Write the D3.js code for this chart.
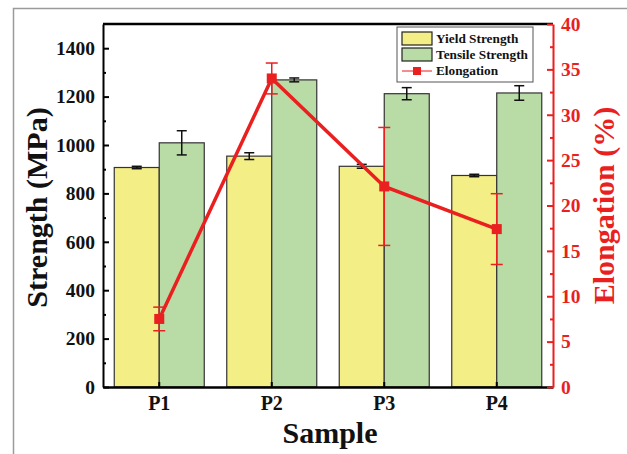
<!DOCTYPE html>
<html>
<head>
<meta charset="utf-8">
<script src="https://cdn.jsdelivr.net/npm/d3@7"></script>
<style>
  body { margin: 0; background: #fff; }
  text { font-family: "Liberation Serif", "Times New Roman", serif; font-weight: bold; }
</style>
</head>
<body>
<div id="chart"></div>
<script>
// data
const samples = ['P1', 'P2', 'P3', 'P4'];
const yieldStrength = [907, 954, 912, 874];
const yieldErr = [5, 14, 8, 5];
const tensileStrength = [1009, 1269, 1212, 1215];
const tensileErr = [50, 8, 25, 30];
const elongation = [7.5, 34, 22.1, 17.4];
const elongationErr = [1.3, 1.7, 6.5, 3.9];
const strengthTicks = [0, 200, 400, 600, 800, 1000, 1200, 1400];
const elongTicks = [0, 5, 10, 15, 20, 25, 30, 35, 40];

const width = 627, height = 454;
const margin = { top: 24, right: 74, bottom: 67, left: 103 };
const innerW = width - margin.left - margin.right;
const innerH = height - margin.top - margin.bottom;
const red = '#ea1f1f';
const yellow = '#f4ee86';
const green = '#b9dba6';

const svg = d3.select('#chart').append('svg')
    .attr('width', width)
    .attr('height', height);

// outer grey frame of the figure
svg.append('path')
    .attr('d', `M13.5,${height} L13.5,8.5 L${width},8.5`)
    .attr('fill', 'none')
    .attr('stroke', '#9a9a9a')
    .attr('stroke-width', 1.5);

const g = svg.append('g')
    .attr('transform', `translate(${margin.left},${margin.top})`);

const x = d3.scaleBand().domain(samples).range([0, innerW]).paddingInner(0.2).paddingOuter(0.1);
const xSub = d3.scaleBand().domain(['yield', 'tensile']).range([0, x.bandwidth()]);
const y = d3.scaleLinear().domain([0, 1500]).range([innerH, 0]);
const y2 = d3.scaleLinear().domain([0, 40]).range([innerH, 0]);

// bars
const bars = [
    { key: 'yield', values: yieldStrength, errs: yieldErr, fill: yellow },
    { key: 'tensile', values: tensileStrength, errs: tensileErr, fill: green }
];
bars.forEach(s => {
    samples.forEach((p, i) => {
        const bx = x(p) + xSub(s.key);
        g.append('rect')
            .attr('x', bx)
            .attr('y', y(s.values[i]))
            .attr('width', xSub.bandwidth())
            .attr('height', innerH - y(s.values[i]))
            .attr('fill', s.fill)
            .attr('stroke', '#333')
            .attr('stroke-width', 1.2);
        // error bar
        const cx = bx + xSub.bandwidth() / 2;
        const y1 = y(s.values[i] + s.errs[i]);
        const yb = y(s.values[i] - s.errs[i]);
        g.append('line').attr('x1', cx).attr('x2', cx).attr('y1', y1).attr('y2', yb)
            .attr('stroke', '#111').attr('stroke-width', 1.5);
        [y1, yb].forEach(v => {
            g.append('line').attr('x1', cx - 5).attr('x2', cx + 5).attr('y1', v).attr('y2', v)
                .attr('stroke', '#111').attr('stroke-width', 1.5);
        });
    });
});

// left axis
const yAxis = d3.axisLeft(y).tickValues(strengthTicks).tickFormat(d3.format('d'))
    .tickSizeInner(-6).tickSizeOuter(0).tickPadding(8);
const gy = g.append('g').call(yAxis);
gy.select('.domain').attr('stroke', '#000').attr('stroke-width', 2);
gy.selectAll('.tick line').attr('stroke', '#000').attr('stroke-width', 2);
gy.selectAll('.tick text').attr('font-size', 19.5).attr('fill', '#111');
g.append('g').call(d3.axisLeft(y).tickValues(d3.range(100, 1500, 200)).tickSize(-3).tickFormat(''))
    .call(a => a.select('.domain').remove())
    .selectAll('line').attr('stroke', '#000').attr('stroke-width', 2);

// bottom axis
const xAxis = d3.axisBottom(x).tickSizeInner(-5).tickSizeOuter(0).tickPadding(9);
const gx = g.append('g').attr('transform', `translate(0,${innerH})`).call(xAxis);
gx.select('.domain').attr('stroke', '#000').attr('stroke-width', 2.5);
gx.selectAll('.tick line').attr('stroke', '#000').attr('stroke-width', 2);
gx.selectAll('.tick text').attr('font-size', 20).attr('fill', '#111');

// top frame
g.append('line').attr('x1', 0).attr('x2', innerW).attr('y1', 0).attr('y2', 0)
    .attr('stroke', '#000').attr('stroke-width', 2.5);

// right axis
const yAxis2 = d3.axisRight(y2).tickValues(elongTicks).tickSizeInner(-6).tickSizeOuter(0).tickPadding(8);
const gy2 = g.append('g').attr('transform', `translate(${innerW},0)`).call(yAxis2);
gy2.select('.domain').attr('stroke', red).attr('stroke-width', 2);
gy2.selectAll('.tick line').attr('stroke', red).attr('stroke-width', 2);
gy2.selectAll('.tick text').attr('font-size', 19.5).attr('fill', red);
g.append('g').attr('transform', `translate(${innerW},0)`)
    .call(d3.axisRight(y2).tickValues(d3.range(2.5, 40, 5)).tickSize(-3).tickFormat(''))
    .call(a => a.select('.domain').remove())
    .selectAll('line').attr('stroke', red).attr('stroke-width', 2);

// elongation line with error bars
const cxOf = p => x(p) + x.bandwidth() / 2;
samples.forEach((p, i) => {
    const cx = cxOf(p);
    const y1 = y2(elongation[i] + elongationErr[i]);
    const yb = y2(elongation[i] - elongationErr[i]);
    g.append('line').attr('x1', cx).attr('x2', cx).attr('y1', y1).attr('y2', yb)
        .attr('stroke', red).attr('stroke-width', 1.5);
    [y1, yb].forEach(v => {
        g.append('line').attr('x1', cx - 6).attr('x2', cx + 6).attr('y1', v).attr('y2', v)
            .attr('stroke', red).attr('stroke-width', 1.5);
    });
});
const line = d3.line().x((d, i) => cxOf(samples[i])).y(d => y2(d));
g.append('path')
    .datum(elongation)
    .attr('d', line)
    .attr('fill', 'none')
    .attr('stroke', red)
    .attr('stroke-width', 3.5);
g.selectAll('.pt').data(elongation).enter().append('rect')
    .attr('x', (d, i) => cxOf(samples[i]) - 5)
    .attr('y', d => y2(d) - 5)
    .attr('width', 10)
    .attr('height', 10)
    .attr('fill', red);

// axis titles
svg.append('text')
    .attr('transform', `translate(47,${margin.top + innerH / 2 + 2}) rotate(-90)`)
    .attr('text-anchor', 'middle')
    .attr('font-size', 30)
    .attr('fill', '#111')
    .text('Strength (MPa)');
svg.append('text')
    .attr('transform', `translate(614,${margin.top + innerH / 2}) rotate(-90)`)
    .attr('text-anchor', 'middle')
    .attr('font-size', 30)
    .attr('fill', red)
    .text('Elongation (%)');
svg.append('text')
    .attr('x', margin.left + innerW / 2 + 2)
    .attr('y', 443)
    .attr('text-anchor', 'middle')
    .attr('font-size', 30)
    .attr('fill', '#111')
    .text('Sample');

// legend
const lg = svg.append('g').attr('transform', 'translate(397,27)');
lg.append('rect').attr('width', 136).attr('height', 55)
    .attr('fill', '#fff').attr('stroke', '#555').attr('stroke-width', 1);
const legendItems = [
    { label: 'Yield Strength', fill: yellow },
    { label: 'Tensile Strength', fill: green },
    { label: 'Elongation' }
];
legendItems.forEach((d, i) => {
    const ly = 5 + i * 16;
    if (d.fill) {
        lg.append('rect').attr('x', 5).attr('y', ly).attr('width', 30).attr('height', 13)
            .attr('fill', d.fill).attr('stroke', '#222').attr('stroke-width', 1.2);
    } else {
        lg.append('line').attr('x1', 5).attr('x2', 35).attr('y1', ly + 7).attr('y2', ly + 7)
            .attr('stroke', red).attr('stroke-width', 1);
        lg.append('rect').attr('x', 16).attr('y', ly + 3).attr('width', 8).attr('height', 8).attr('fill', red);
    }
    lg.append('text').attr('x', 39).attr('y', ly + 11)
        .attr('font-size', 13.3).attr('fill', '#111').text(d.label);
});
</script>
</body>
</html>
